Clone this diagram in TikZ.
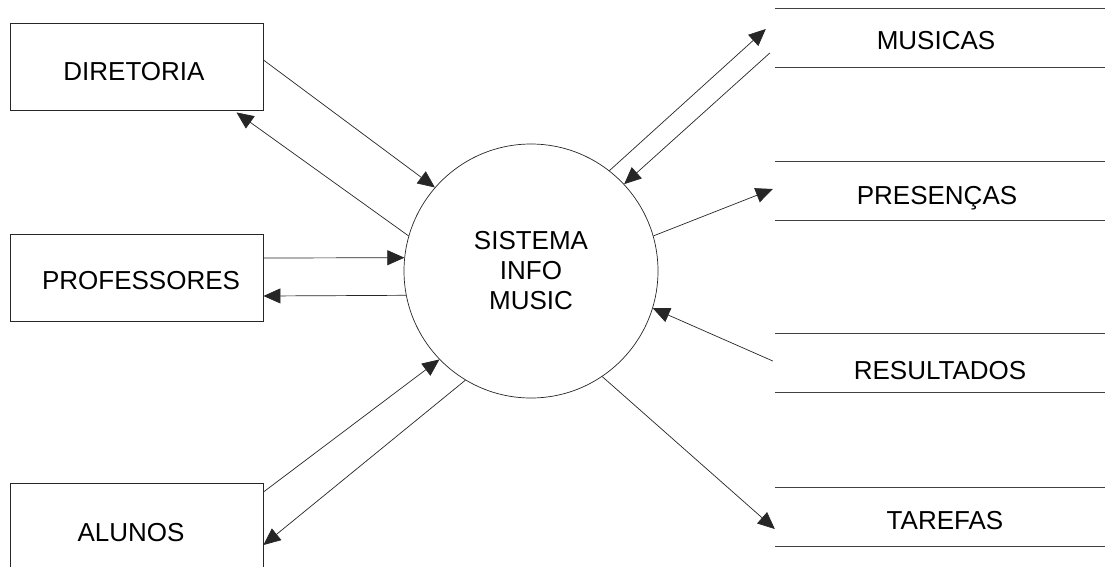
\documentclass[tikz,border=0pt]{standalone}
\usepackage{fontspec}
\setmainfont{Liberation Sans}
\usetikzlibrary{arrows.meta}
\begin{document}
\begin{tikzpicture}[x=1pt,y=-1pt,
  every node/.style={font=\fontsize{26}{30}\selectfont},
  entity/.style={draw=black!85,line width=0.9pt,minimum width=253pt,inner sep=0pt},
  store/.style={minimum width=330pt,minimum height=58pt,inner sep=0pt},
  storeline/.style={draw=black!75,line width=0.9pt},
  lbl/.style={anchor=base,inner sep=0pt},
  flow/.style={draw=black!85,line width=0.7pt,-{Triangle[length=17pt,width=15pt]}}]
\useasboundingbox (0,0) rectangle (1105,566);
\clip (0,0) rectangle (1105,566);
\fill[white] (0,0) rectangle (1105,566);

% external entities
\node[entity,minimum height=87pt] (dir) at (136.5,66.5) {};
\node[entity,minimum height=87pt] (prof) at (136.5,277.5) {};
\node[entity,minimum height=98pt] (alu) at (136.5,532) {};
\node[lbl] (dir-t) at (134,80) {DIRETORIA};
\node[lbl] (prof-t) at (141,289.5) {PROFESSORES};
\node[lbl] (alu-t) at (131,541) {ALUNOS};

% process
\node[draw=black!85,line width=0.7pt,circle,minimum size=254pt,align=center,inner sep=0pt]
  (sys) at (531,271) {SISTEMA\\INFO\\MUSIC};

% data stores
\node[store] (mus) at (940,38) {};
\node[store] (pre) at (940,191) {};
\node[store] (res) at (940,363) {};
\node[store] (tar) at (940,517) {};
\foreach \s in {mus,pre,res,tar}{
  \draw[storeline] (\s.north west) -- (\s.north east);
  \draw[storeline] (\s.south west) -- (\s.south east);
}
\node[lbl] (mus-t) at (936,49) {MUSICAS};
\node[lbl] (pre-t) at (937,204) {PRESENÇAS};
\node[lbl] (res-t) at (940,379.5) {RESULTADOS};
\node[lbl] (tar-t) at (945,529.5) {TAREFAS};

% flows
\draw[flow] ([yshift=6.5pt]dir.east) -- (sys.139.4);
\draw[flow] (sys.164.9) -- ([xshift=100pt,yshift=-2pt]dir.south);
\draw[flow] ([yshift=19.5pt]prof.east) -- (sys.174.2);
\draw[flow] (sys.191.1) -- ([yshift=-18.5pt]prof.east);
\draw[flow] ([yshift=40pt]alu.east) -- (sys.224);
\draw[flow] (sys.239.6) -- ([yshift=-13pt]alu.east);
\draw[flow] (sys.52.8) -- ([xshift=-9pt,yshift=9pt]mus.west);
\draw[flow] ([xshift=-5pt,yshift=-15pt]mus.west) -- (sys.43.4);
\draw[flow] (sys.16.9) -- ([xshift=-2pt,yshift=2pt]pre.west);
\draw[flow] ([xshift=-2pt,yshift=2pt]res.west) -- (sys.343.3);
\draw[flow] (sys.304.2) -- ([yshift=-12pt]tar.west);
\end{tikzpicture}
\end{document}
